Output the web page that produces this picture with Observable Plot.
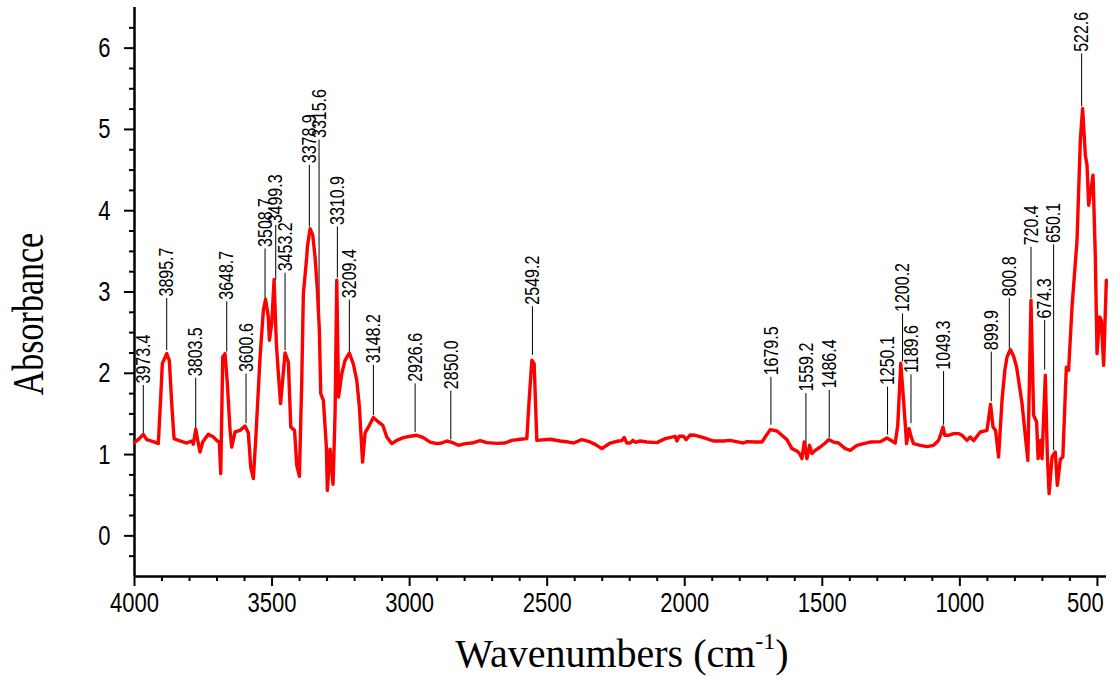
<!DOCTYPE html>
<html><head><meta charset="utf-8">
<script src="https://cdn.jsdelivr.net/npm/d3@7"></script>
<script src="https://cdn.jsdelivr.net/npm/@observablehq/plot@0.6"></script>
<style>
body{margin:0;background:#fff;}
#chart{width:1120px;height:679px;}
</style></head><body><div id="chart"></div>
<script>
const wavenumber = [4000,3998.2,3982.5,3968,3955.6,3931.6,3913.4,3904.7,3898.9,3882.9,3873.4,3864.7,3856.3,3834.5,3810.2,3792,3786.2,3777.4,3770.2,3761.8,3752,3731.6,3713.4,3698.9,3691.6,3686.5,3679.3,3670.9,3662.5,3652.7,3646.5,3634.5,3616.4,3598.2,3586.2,3577.5,3568,3558.2,3543.6,3531.6,3523.6,3513.5,3509.8,3501.1,3492.7,3484.4,3477.1,3469.1,3452.7,3440.7,3432,3418.2,3410.2,3400.7,3392,3386.2,3373.9,3371.7,3361.9,3352.1,3343.7,3335.3,3328.1,3323,3313.5,3302.6,3299,3289.2,3278.3,3271,3264.8,3258.3,3246.6,3234.6,3219,3204.4,3192.1,3182.6,3171,3161.9,3146.3,3131.7,3113.5,3097.5,3083,3064.8,3046.6,3022.6,2998.2,2973.9,2949.9,2925.5,2901.2,2883,2864.8,2846.6,2822.6,2798.3,2773.9,2743.7,2719.4,2683,2652.8,2628.5,2598.3,2573.9,2565.6,2555.7,2547.4,2537.6,2489.2,2452.8,2422.7,2404.5,2373.9,2349.9,2325.6,2301.2,2271,2240.9,2228.5,2220.1,2210.3,2198.3,2188.5,2180.1,2162,2137.6,2101.2,2071,2034.7,2028.5,2020.2,2004.5,1994.7,1980.2,1962,1931.8,1895.4,1859,1834.7,1804.5,1786.4,1774,1743.8,1719.4,1707.5,1689.3,1664.9,1646.7,1628.6,1610.4,1592.2,1582.7,1574,1565.6,1555.8,1546.4,1537.6,1525.7,1507.5,1489.3,1477.3,1459.1,1440.9,1416.6,1398.4,1374,1350,1325.7,1289.3,1265,1246.8,1234.8,1225.7,1214.8,1204.6,1193.7,1184.6,1176.6,1168.2,1143.9,1119.5,1095.5,1077.3,1068.6,1061.3,1054.8,1041,1022.8,1004.6,992.3,974.1,962.1,950.1,925.7,901.4,888.3,879.5,870.1,859.2,846.8,836.6,828.6,816.6,804.6,793.7,774,752.9,741.4,731.9,721,715.6,707.6,701.4,689.4,682.1,675.6,665,653,645.7,634.8,625.7,613,604.7,592.3,574.1,562.1,553.8,543.9,537.8,531.9,515.9,507.6,501.4,491.9,485.8,477.4,467.6];
const absorbance = [1.15,1.154,1.196,1.249,1.184,1.159,1.135,1.708,2.119,2.242,2.16,1.627,1.196,1.167,1.142,1.167,1.126,1.311,1.175,1.031,1.154,1.249,1.216,1.167,1.154,0.766,2.201,2.242,1.873,1.298,1.093,1.278,1.298,1.351,1.265,0.847,0.704,1.258,2.201,2.775,2.911,2.693,2.406,2.612,3.153,2.366,1.996,1.627,2.25,2.135,1.339,1.298,0.868,0.732,1.914,2.981,3.431,3.554,3.778,3.699,3.431,3.022,2.529,1.75,1.668,1.093,0.56,1.065,0.634,1.504,3.145,1.708,1.996,2.16,2.25,2.111,1.914,1.585,0.908,1.268,1.36,1.455,1.401,1.36,1.216,1.135,1.175,1.209,1.225,1.237,1.209,1.154,1.135,1.142,1.167,1.151,1.114,1.135,1.142,1.172,1.147,1.138,1.142,1.175,1.188,1.196,1.668,2.16,2.119,1.175,1.188,1.167,1.154,1.142,1.184,1.163,1.126,1.073,1.142,1.167,1.172,1.209,1.142,1.142,1.175,1.151,1.167,1.154,1.147,1.196,1.225,1.167,1.225,1.225,1.184,1.241,1.237,1.209,1.167,1.167,1.175,1.154,1.142,1.159,1.154,1.154,1.216,1.307,1.29,1.237,1.184,1.073,1.044,1.012,0.95,1.154,0.95,1.114,1.012,1.052,1.093,1.142,1.184,1.154,1.142,1.073,1.052,1.114,1.135,1.154,1.159,1.204,1.167,1.142,1.36,2.123,1.668,1.135,1.319,1.212,1.135,1.114,1.098,1.114,1.175,1.258,1.339,1.237,1.237,1.258,1.258,1.237,1.175,1.216,1.172,1.278,1.298,1.618,1.339,1.298,0.97,1.668,2.037,2.201,2.292,2.209,2.078,1.627,0.929,2.898,1.483,1.401,0.95,1.175,0.95,1.975,0.991,0.519,0.97,1.031,0.622,0.942,0.97,2.074,2.037,2.816,3.637,4.868,5.258,4.683,4.56,4.068,4.437,3.431,2.242,2.693,2.652,2.098,3.145];

const peakLabels = ["3973.4","3895.7","3803.5","3648.7","3600.6","3508.7","3499.3","3453.2","3378.9","3315.6","3310.9","3209.4","3148.2","2926.6","2850.0","2549.2","1679.5","1559.2","1486.4","1250.1","1200.2","1189.6","1049.3","899.9","800.8","720.4","674.3","650.1","522.6"];
const peakAt     = [3968,3882.9,3777.5,3664.8,3594.6,3525.5,3486.6,3452.8,3364.4,3329.2,3262.6,3219,3131.7,2980.1,2850.3,2553.6,1686.8,1559.5,1474.8,1262.8,1208.3,1177.7,1059.2,885.8,820.2,741.4,691.9,659.2,557.4];
const peakBase   = [1.26,2.28,1.32,2.26,1.38,2.90,3.14,2.28,3.80,2.51,3.17,2.26,1.48,1.27,1.18,2.22,1.36,1.05,1.20,1.24,2.14,1.38,1.36,1.65,2.30,2.92,2.04,1.05,5.28];
const peakTop    = [1.85,2.92,1.94,2.88,1.99,3.53,3.82,3.23,4.56,4.87,3.80,2.90,2.10,1.87,1.78,2.82,1.95,1.75,1.79,1.83,2.73,1.98,2.02,2.26,2.92,3.55,2.65,3.58,5.93];

const xTicks = [4000,3500,3000,2500,2000,1500,1000,500];
const yTicks = [0,1,2,3,4,5,6];
const xMinor = d3.range(3900, 460, -100).filter(v => v % 500 !== 0);
const yMinor = d3.range(-0.25, 6.5, 0.25).filter(v => !Number.isInteger(v));

const spectrum = wavenumber.map((w, i) => ({w, a: absorbance[i]}));
const peaks = peakLabels.map((t, i) => ({t, x: peakAt[i], y1: peakBase[i], y2: peakTop[i]}));

const sans = "'Liberation Sans', Arial, sans-serif";
const serif = "'Liberation Serif', 'Times New Roman', serif";

const chart = Plot.plot({
  width: 1120, height: 679,
  marginLeft: 134, marginRight: 14, marginTop: 7, marginBottom: 103,
  style: {fontFamily: sans, fontSize: "20px", background: "#fff", color: "#000"},
  x: {domain: [4000, 467], label: null},
  y: {domain: [-0.5, 6.5], label: null},
  marks: [
    Plot.axisX({ticks: xTicks, tickSize: 10, tickPadding: 6, strokeWidth: 2, fontSize: 22, label: null, tickFormat: d => String(d)}),
    Plot.axisX({ticks: xMinor, tickSize: 5, strokeWidth: 2, tickFormat: () => "", label: null}),
    Plot.axisY({ticks: yTicks, tickSize: 10, tickPadding: 14, strokeWidth: 2, fontSize: 22, label: null, tickFormat: d => String(d)}),
    Plot.axisY({ticks: yMinor, tickSize: 5, strokeWidth: 2, tickFormat: () => "", label: null}),
    Plot.ruleX([4000], {strokeWidth: 2.5}),
    Plot.ruleY([-0.5], {strokeWidth: 2.5}),
    Plot.ruleX(peaks, {x: "x", y1: "y1", y2: "y2", stroke: "#000", strokeWidth: 1}),
    Plot.text(peaks, {x: "x", y: "y2", text: "t", rotate: -90, textAnchor: "start", dy: -2, fontSize: 16, fontFamily: sans, fill: "#000"}),
    Plot.line(spectrum, {x: "w", y: "a", stroke: "#ff0000", strokeWidth: 3.4, strokeLinejoin: "round"}),
    Plot.text(["Absorbance"], {frameAnchor: "left", text: d => d, rotate: -90, textAnchor: "middle", dx: -106, dy: 22, fontSize: 34, fontFamily: serif, fill: "#000"})
  ]
});

const svg = d3.select(chart);
const t = svg.append("text")
  .attr("x", 622).attr("y", 667)
  .attr("text-anchor", "middle")
  .attr("font-family", serif).attr("font-size", 40).attr("fill", "#000");
t.append("tspan").text("Wavenumbers (cm");
t.append("tspan").attr("font-size", 24).attr("dy", -18).text("-1");
t.append("tspan").attr("dy", 18).text(")");

document.getElementById("chart").appendChild(chart);

// The reference uses narrow (condensed) lettering: keep each label's length, enlarge its glyph height.
function condense(el, newSize) {
  const len = el.getComputedTextLength();
  el.setAttribute("font-size", newSize);
  el.style.fontSize = newSize + "px";
  el.setAttribute("textLength", len);
  el.setAttribute("lengthAdjust", "spacingAndGlyphs");
}
const labelSet = new Set(peakLabels);
svg.selectAll("text").each(function() {
  const s = this.textContent;
  const g = this.closest("g");
  const aria = g ? (g.getAttribute("aria-label") || "") : "";
  if (aria.includes("tick label") && s !== "") {
    condense(this, 28);
    if (aria.startsWith("x") && s === "500") this.setAttribute("dx", -12);
  }
  else if (labelSet.has(s)) condense(this, 21);
  else if (s === "Absorbance") condense(this, 44);
});
</script>
</body></html>
